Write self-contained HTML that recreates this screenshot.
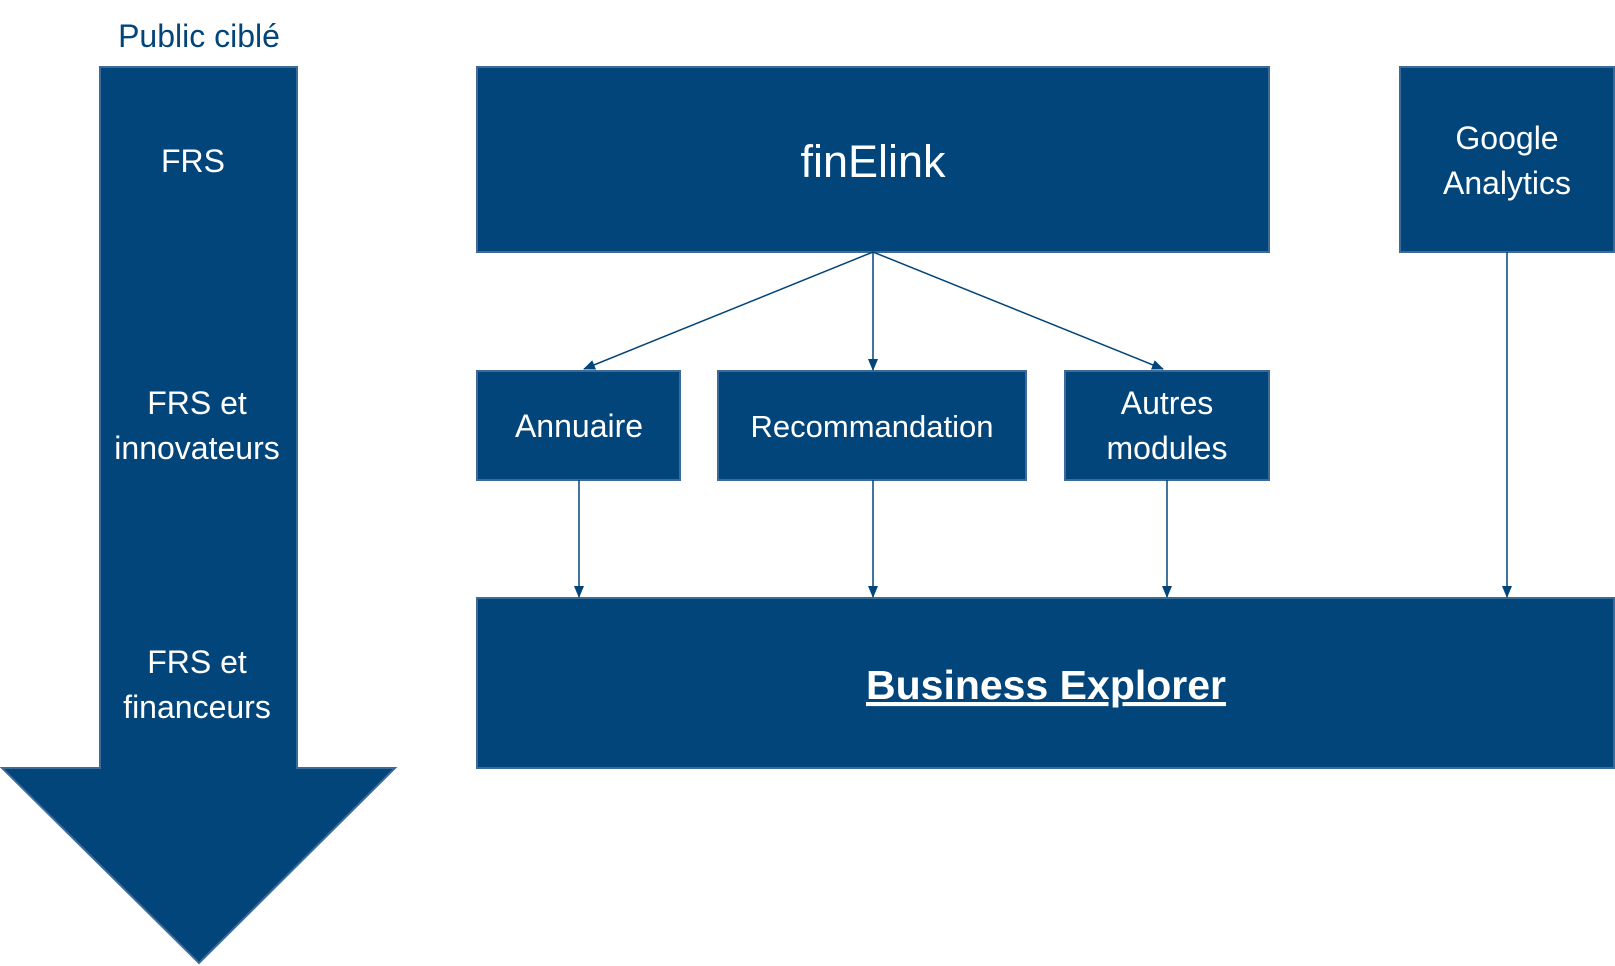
<!DOCTYPE html>
<html><head><meta charset="utf-8"><style>
html,body{margin:0;padding:0;background:#fff;width:1615px;height:966px;overflow:hidden}
svg{display:block}
text{font-family:"Liberation Sans",sans-serif;fill:#fff;text-anchor:middle}
</style></head><body>
<svg width="1615" height="966" viewBox="0 0 1615 966">
<defs>
<marker id="a" markerWidth="12" markerHeight="10" refX="11" refY="5" orient="auto" markerUnits="userSpaceOnUse">
<path d="M0,0 L12,5 L0,10 Z" fill="#02457a"/></marker>
</defs>
<g fill="#02457a" stroke="#3d6b99" stroke-width="2">
<path d="M100,67 L297,67 L297,768 L395,768 L199,963 L2,768 L100,768 Z"/>
<rect x="477" y="67" width="792" height="185"/>
<rect x="1400" y="67" width="214" height="185"/>
<rect x="477" y="371" width="203" height="109"/>
<rect x="718" y="371" width="308" height="109"/>
<rect x="1065" y="371" width="204" height="109"/>
<rect x="477" y="598" width="1137" height="170"/>
</g>
<g stroke="#02457a" stroke-width="1.5" fill="none" marker-end="url(#a)">
<line x1="873" y1="252" x2="584" y2="369"/>
<line x1="873" y1="252" x2="873" y2="370"/>
<line x1="873" y1="252" x2="1163" y2="369"/>
<line x1="579" y1="480" x2="579" y2="597"/>
<line x1="873" y1="480" x2="873" y2="597"/>
<line x1="1167" y1="480" x2="1167" y2="597"/>
<line x1="1507" y1="252" x2="1507" y2="597"/>
</g>
<text x="199" y="47" font-size="32" style="fill:#02457a">Public ciblé</text>
<text x="193" y="172" font-size="32">FRS</text>
<text x="197" y="414" font-size="32">FRS et</text>
<text x="197" y="459" font-size="32">innovateurs</text>
<text x="197" y="673" font-size="32">FRS et</text>
<text x="197" y="718" font-size="32">financeurs</text>
<text x="873" y="177" font-size="45">finElink</text>
<text x="1507" y="149" font-size="32">Google</text>
<text x="1507" y="194" font-size="32">Analytics</text>
<text x="579" y="437" font-size="32">Annuaire</text>
<text x="872" y="437" font-size="31">Recommandation</text>
<text x="1167" y="414" font-size="32">Autres</text>
<text x="1167" y="459" font-size="32">modules</text>
<text x="1046" y="699" font-size="41" font-weight="bold" text-decoration="underline">Business Explorer</text>
</svg>
</body></html>
